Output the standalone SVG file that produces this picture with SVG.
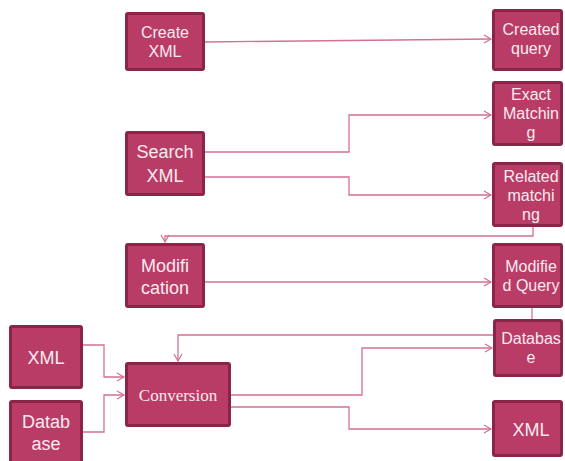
<svg xmlns="http://www.w3.org/2000/svg" width="565" height="461" viewBox="0 0 565 461">
<style>
.box{fill:#B93C66;stroke:#8A2547;stroke-width:3}
.t{font-family:"Liberation Sans",Arial,sans-serif;fill:#FAEAF0;text-anchor:middle}
.s16{font-size:16px}
.s18{font-size:18px}
.serif{font-family:"Liberation Serif",serif;font-size:17px;fill:#FAEAF0;text-anchor:middle}
.c{fill:none;stroke:#D46F95;stroke-width:1.3}
</style>
<defs>
<marker id="ah" markerWidth="10" markerHeight="10" refX="8" refY="5" orient="auto" markerUnits="userSpaceOnUse">
<path d="M1,1 L8,5 L1,9" fill="none" stroke="#D46F95" stroke-width="1.2"/>
</marker>
</defs>
<g id="connectors">
<path class="c" d="M205,42 L491,39" marker-end="url(#ah)"/>
<path class="c" d="M205,152 H349 V115 H491" marker-end="url(#ah)"/>
<path class="c" d="M205,177 H349 V195 H491" marker-end="url(#ah)"/>
<path class="c" d="M533,227 V236 H165 V242" marker-end="url(#ah)"/>
<path class="c" d="M205,282 H491" marker-end="url(#ah)"/>
<path class="c" d="M532,308 V319"/>
<path class="c" d="M493,335 H178 V361" marker-end="url(#ah)"/>
<path class="c" d="M83,345 H104 V377 H124" marker-end="url(#ah)"/>
<path class="c" d="M83,432 H104 V395 H124" marker-end="url(#ah)"/>
<path class="c" d="M231,395 H362 V348 H492" marker-end="url(#ah)"/>
<path class="c" d="M231,407 H349 V429 H491" marker-end="url(#ah)"/>
</g>
<g id="create-xml"><rect class="box" x="126.5" y="13.5" width="77" height="56" rx="1.5"/>
<text class="t s16" x="165" y="38">Create</text><text class="t s16" x="165" y="57">XML</text></g>
<g id="created-query"><rect class="box" x="493.5" y="10.5" width="68" height="59" rx="1.5"/>
<text class="t s16" x="531" y="35">Created</text><text class="t s16" x="531" y="54">query</text></g>
<g id="exact-matching"><rect class="box" x="493.5" y="82.5" width="68" height="62" rx="1.5"/>
<text class="t s16" x="531" y="100">Exact</text><text class="t s16" x="531" y="119">Matchin</text><text class="t s16" x="531" y="138">g</text></g>
<g id="search-xml"><rect class="box" x="126.5" y="132.5" width="77" height="62" rx="1.5"/>
<text class="t s18" x="165" y="158">Search</text><text class="t s18" x="165" y="182">XML</text></g>
<g id="related-matching"><rect class="box" x="493.5" y="163.5" width="68" height="62" rx="1.5"/>
<text class="t s16" x="531" y="182">Related</text><text class="t s16" x="531" y="201">matchi</text><text class="t s16" x="531" y="220">ng</text></g>
<g id="modification"><rect class="box" x="126.5" y="244.5" width="77" height="62" rx="1.5"/>
<text class="t s18" x="165" y="272">Modifi</text><text class="t s18" x="165" y="294">cation</text></g>
<g id="modified-query"><rect class="box" x="493.5" y="244.5" width="68" height="62" rx="1.5"/>
<text class="t s16" x="531" y="272">Modifie</text><text class="t s16" x="531" y="291">d Query</text></g>
<g id="database-right"><rect class="box" x="494.5" y="320.5" width="67" height="55" rx="1.5"/>
<text class="t s16" x="531" y="344">Databas</text><text class="t s16" x="531" y="363">e</text></g>
<g id="xml-left"><rect class="box" x="10.5" y="326.5" width="71" height="61" rx="1.5"/>
<text class="t s18" x="46" y="364">XML</text></g>
<g id="conversion"><rect class="box" x="126.5" y="363.5" width="103" height="62" rx="1.5"/>
<text class="serif" x="178" y="401">Conversion</text></g>
<g id="database-left"><rect class="box" x="10.5" y="401.5" width="71" height="62" rx="1.5"/>
<text class="t s18" x="46" y="428">Datab</text><text class="t s18" x="46" y="450">ase</text></g>
<g id="xml-right"><rect class="box" x="493.5" y="401.5" width="68" height="54" rx="1.5"/>
<text class="t s18" x="531" y="436">XML</text></g>
</svg>
